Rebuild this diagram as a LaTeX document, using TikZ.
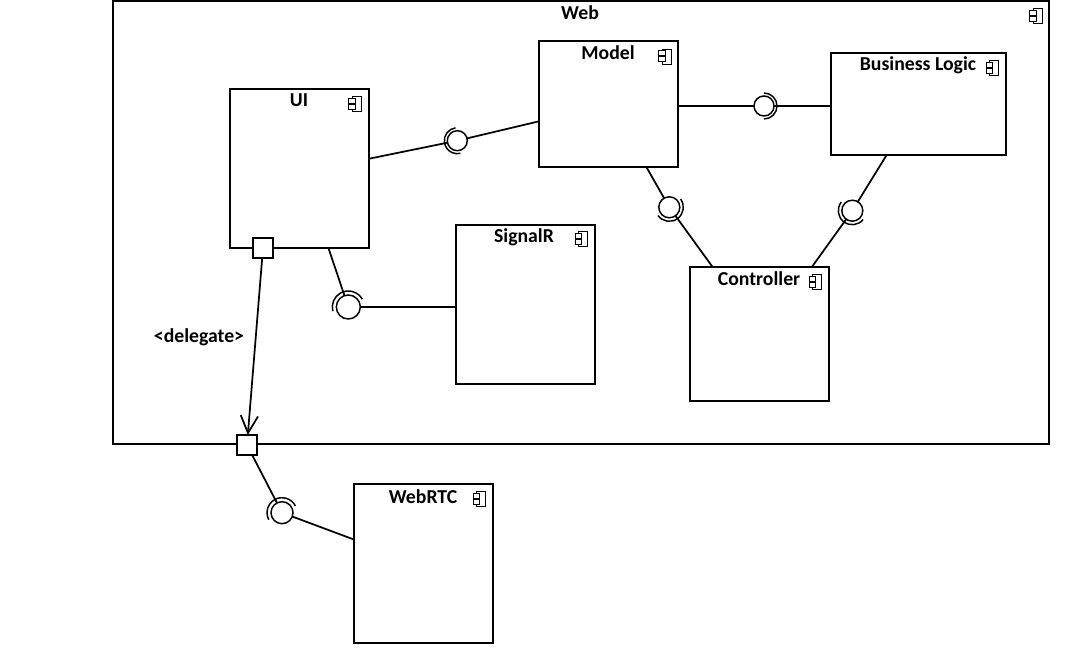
\documentclass[tikz,border=0pt]{standalone}
\usepackage{fontspec}
\setmainfont{Carlito}
\usetikzlibrary{arrows.meta}
\tikzset{
  x=0.75pt,y=0.75pt,
  comp/.style={draw=black,line width=1pt,inner sep=0pt,outer sep=0pt},
  ball/.style={circle,draw=black,line width=1.1pt,inner sep=0pt,outer sep=0pt,minimum size=#1*0.75pt},
  port/.style={draw=black,fill=white,line width=1.1pt,inner sep=0pt,outer sep=0pt,minimum size=15pt},
  link/.style={draw=black,line width=1.3pt},
  sock/.style={draw=black,line width=1.1pt},
  lbl/.style={inner sep=0pt,font=\fontsize{14.8pt}{16pt}\selectfont\bfseries},
  pics/icon/.style={code={
    \draw[black,line width=0.65pt] (-3,-7.5) rectangle (6,7.5);
    \draw[black,fill=white,line width=0.65pt] (-6.5,0.7) rectangle (0,5.7);
    \draw[black,fill=white,line width=0.65pt] (-6.5,-5.2) rectangle (0,-0.2);
  }}
}
\newcommand{\socket}[4]{\draw[sock] (#1.center) ++(#2:#4) arc[start angle=#2,end angle=#3,radius=#4];}
\begin{document}
\begin{tikzpicture}
\useasboundingbox (0,0) rectangle (1069,663);
% components
\node[comp,minimum width=702pt,minimum height=332.25pt] (web) at (581,440.5) {};
\node[comp,minimum width=104.25pt,minimum height=94.5pt] (model) at (608.5,559) {};
\node[comp,minimum width=131.25pt,minimum height=76.5pt] (bl) at (918.5,559) {};
\node[comp,minimum width=104.25pt,minimum height=119.25pt] (ui) at (299.5,494.5) {};
\node[comp,minimum width=104.25pt,minimum height=119.25pt] (signalr) at (525.5,358.5) {};
\node[comp,minimum width=104.25pt,minimum height=100.5pt] (controller) at (759.5,329) {};
\node[comp,minimum width=104.25pt,minimum height=119.25pt] (webrtc) at (423.5,99.5) {};
% labels
\node[lbl] (tweb) at (580,650) {Web};
\node[lbl] (tmodel) at (608,610) {Model};
\node[lbl] (tbl) at (918,597.5) {Business Logic};
\node[lbl] (tui) at (299,563) {UI};
\node[lbl] (tsignalr) at (524,426) {SignalR};
\node[lbl] (tcontroller) at (759,384) {Controller};
\node[lbl] (twebrtc) at (423,166) {WebRTC};
\node[lbl] (tdelegate) at (199,325.5) {<delegate>};
% icons
\pic at (1036,647) {icon};
\pic at (665,606.5) {icon};
\pic at (992.7,595) {icon};
\pic at (355.3,559) {icon};
\pic at (581.5,424) {icon};
\pic at (815.7,381) {icon};
\pic at (479.5,164) {icon};
% interface balls
\node[ball=20] (c1) at (457.3,522.3) {};
\node[ball=20] (c2) at (764,557) {};
\node[ball=21] (c3) at (669.3,455.7) {};
\node[ball=21] (c4) at (852.3,452.3) {};
\node[ball=24] (c5) at (348.3,356) {};
\node[ball=22] (c6) at (282,150.3) {};
% sockets
\socket{c1}{98}{284}{13}
\socket{c2}{-90}{90}{13}
\socket{c3}{-144}{36}{14}
\socket{c4}{142}{321}{14}
\socket{c5}{29}{195}{16}
\socket{c6}{27}{208}{15}
% ports
\node[port] (p1) at (263,415) {};
\node[port] (p2) at (247,218) {};
% connectors
\draw[link] (ui.8.9) -- (c1);
\draw[link] (c1) -- (model.194.5);
\draw[link] (model.east |- c2) -- (c2);
\draw[link] (c2) -- (bl.west |- c2);
\draw[link] (model.-59.6) -- (c3);
\draw[link] (c3) -- (controller.125.9);
\draw[link] (bl.238.9) -- (c4);
\draw[link] (c4) -- (controller.52.2);
\draw[link] (ui.-70.8) -- (c5);
\draw[link] (c5) -- (signalr.west |- c5);
\draw[link,-{Straight Barb[length=13pt,width=13pt]}] (p1) -- (p2);
\draw[link] (p2) -- (c6);
\draw[link] (c6) -- (webrtc.161);
\end{tikzpicture}
\end{document}
